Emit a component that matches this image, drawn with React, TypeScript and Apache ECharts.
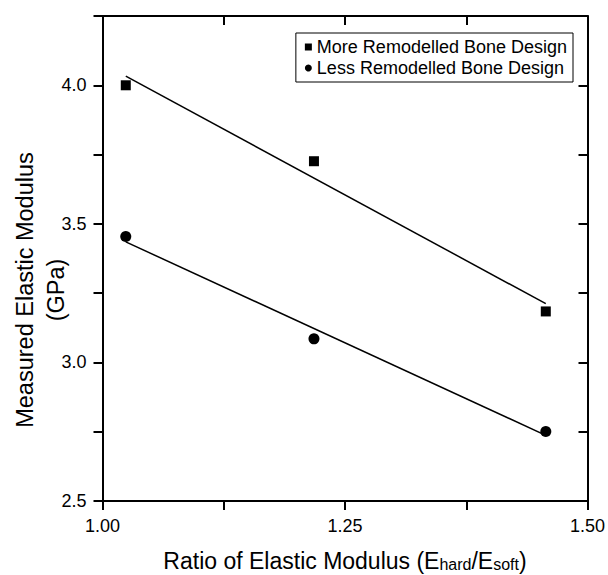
import React, { useEffect, useRef } from "react";
import * as echarts from "echarts";

const xRatio = [1.024, 1.218, 1.457];
const moreRemodelled = [4.0, 3.726, 3.184];
const lessRemodelled = [3.454, 3.085, 2.751];
const fitX = [1.024, 1.457];
const moreFit = [4.033, 3.212];
const lessFit = [3.435, 2.737];
const xTickLabels = ["1.00", "1.25", "1.50"];
const yTickLabels = ["2.5", "3.0", "3.5", "4.0"];
const seriesNames = ["More Remodelled Bone Design", "Less Remodelled Bone Design"];

const FONT = "'Liberation Sans', Arial, Helvetica, sans-serif";

export default function App() {
  const ref = useRef<HTMLDivElement>(null);
  useEffect(() => {
    if (!ref.current) return;
    const chart = echarts.init(ref.current, null, { renderer: "svg" });
    const axisLine = { show: true, lineStyle: { color: "#000", width: 2 } };
    const pair = (xs: number[], ys: number[]) => xs.map((x, i) => [x, ys[i]]);
    chart.setOption({
      animation: false,
      backgroundColor: "#fff",
      grid: { left: 102.5, right: 20.5, top: 16, bottom: 74, outerBoundsMode: "none", containLabel: false },
      legend: {
        orient: "vertical",
        right: 35,
        top: 33,
        borderColor: "#000",
        borderWidth: 1,
        borderRadius: 0,
        padding: [5, 6, 5, 9],
        itemWidth: 7,
        itemHeight: 7,
        itemGap: 3,
        textStyle: { fontSize: 18, color: "#000", fontFamily: FONT },
        data: [
          { name: seriesNames[0], icon: "rect" },
          { name: seriesNames[1], icon: "circle" },
        ],
      },
      xAxis: [
        {
          type: "value",
          position: "bottom",
          min: 1,
          max: 1.5,
          interval: 0.125,
          axisLine,
          axisTick: { show: true, inside: false, length: 9, lineStyle: { color: "#000", width: 2 } },
          axisLabel: {
            show: true,
            margin: 16,
            fontSize: 18,
            color: "#000",
            fontFamily: FONT,
            showMinLabel: true,
            showMaxLabel: true,
            formatter: (v: number) => {
              const s = v.toFixed(2);
              return xTickLabels.includes(s) ? s : "";
            },
          },
          splitLine: { show: false },
          name: "{m|Ratio of Elastic Modulus (E}{s|hard}{m|/E}{s|soft}{m|)}",
          nameLocation: "middle",
          nameGap: 48,
          nameTextStyle: {
            color: "#000",
            fontFamily: FONT,
            rich: {
              m: { fontSize: 23, lineHeight: 23, verticalAlign: "top", color: "#000", fontFamily: FONT },
              s: {
                fontSize: 16,
                lineHeight: 16,
                verticalAlign: "bottom",
                padding: [17, 0, 0, 0],
                color: "#000",
                fontFamily: FONT,
              },
            },
          },
        },
        {
          type: "value",
          position: "top",
          min: 1,
          max: 1.5,
          interval: 0.125,
          axisLine,
          axisTick: { show: true, inside: true, length: 9, lineStyle: { color: "#000", width: 2 } },
          axisLabel: { show: false },
          splitLine: { show: false },
        },
      ],
      yAxis: [
        {
          type: "value",
          position: "left",
          min: 2.5,
          max: 4.25,
          interval: 0.25,
          axisLine,
          axisTick: { show: true, inside: false, length: 9, lineStyle: { color: "#000", width: 2 } },
          axisLabel: {
            show: true,
            margin: 16,
            fontSize: 18,
            color: "#000",
            fontFamily: FONT,
            formatter: (v: number) => {
              const s = v.toFixed(1);
              return yTickLabels.includes(s) && Math.abs(v * 2 - Math.round(v * 2)) < 1e-9 ? s : "";
            },
          },
          splitLine: { show: false },
        },
        {
          type: "value",
          position: "right",
          min: 2.5,
          max: 4.25,
          interval: 0.25,
          axisLine,
          axisTick: { show: true, inside: true, length: 9, lineStyle: { color: "#000", width: 2 } },
          axisLabel: { show: false },
          splitLine: { show: false },
        },
      ],
      graphic: [
        {
          type: "text",
          x: 40,
          y: 290,
          rotation: Math.PI / 2,
          style: {
            text: "Measured Elastic Modulus\n(GPa)",
            fontSize: 23.5,
            lineHeight: 31,
            fontFamily: FONT,
            fill: "#000",
            align: "center",
            verticalAlign: "middle",
          },
        },
      ],
      series: [
        {
          name: "moreFit",
          type: "line",
          data: pair(fitX, moreFit),
          showSymbol: false,
          symbol: "none",
          lineStyle: { color: "#000", width: 1.5, opacity: 1 },
          z: 2,
          silent: true,
        },
        {
          name: "lessFit",
          type: "line",
          data: pair(fitX, lessFit),
          showSymbol: false,
          symbol: "none",
          lineStyle: { color: "#000", width: 1.5, opacity: 1 },
          z: 2,
          silent: true,
        },
        {
          name: seriesNames[0],
          type: "scatter",
          symbol: "rect",
          symbolSize: 10,
          itemStyle: { color: "#000", opacity: 1 },
          data: pair(xRatio, moreRemodelled),
          z: 3,
        },
        {
          name: seriesNames[1],
          type: "scatter",
          symbol: "circle",
          symbolSize: 11,
          itemStyle: { color: "#000", opacity: 1 },
          data: pair(xRatio, lessRemodelled),
          z: 3,
        },
      ],
    });
    return () => chart.dispose();
  }, []);
  return <div ref={ref} style={{ width: 608, height: 575, position: "absolute", left: 0, top: 0 }} />;
}
